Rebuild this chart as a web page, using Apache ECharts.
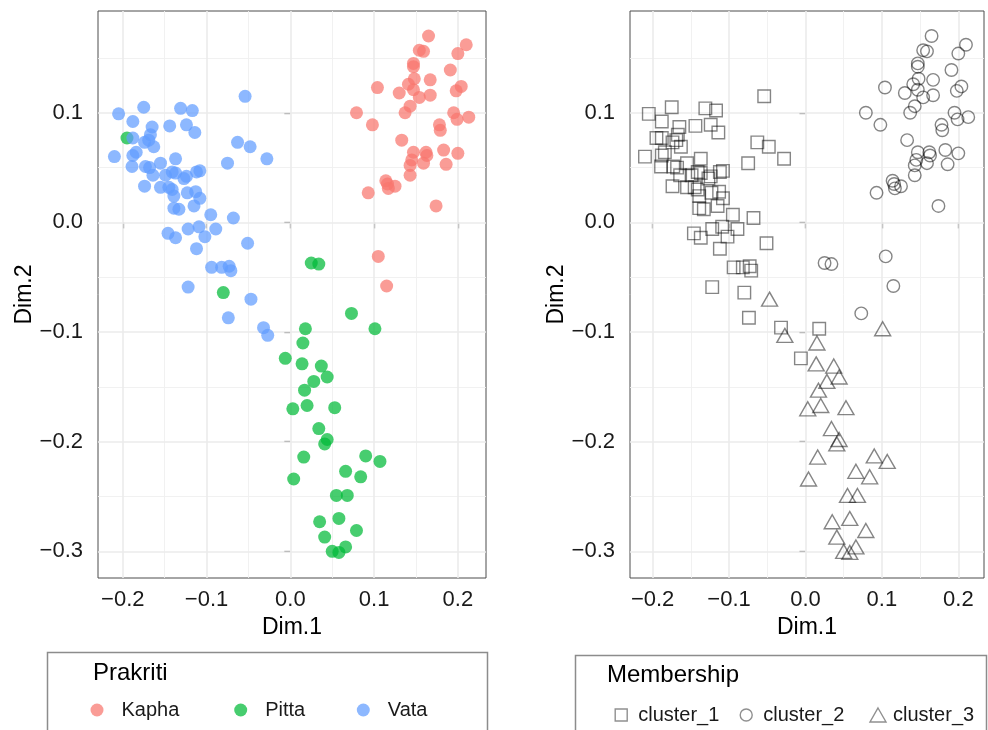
<!DOCTYPE html>
<html style="height: 100%">
<head>
<meta charset="utf-8">
<title>Prakriti vs cluster membership</title>
</head>
<body style="height: 100%; margin: 0; background: #fff">
<div id="container" style="width: 988px; height: 730px"></div>
<script type="text/javascript" src="https://cdn.jsdelivr.net/npm/echarts@6.0.0/dist/echarts.min.js"></script>
<script type="text/javascript">
// each point: [Dim.1, Dim.2, cluster]
var kapha = [
    [0.165, 0.170, 2], [0.154, 0.157, 2], [0.159, 0.156, 2], [0.210, 0.162, 2], [0.200, 0.154, 2],
    [0.147, 0.145, 2], [0.147, 0.142, 2], [0.191, 0.139, 2], [0.104, 0.123, 2], [0.148, 0.131, 2],
    [0.141, 0.126, 2], [0.167, 0.130, 2], [0.130, 0.118, 2], [0.147, 0.121, 2], [0.154, 0.114, 2],
    [0.167, 0.116, 2], [0.204, 0.124, 2], [0.198, 0.120, 2], [0.079, 0.100, 2], [0.143, 0.106, 2],
    [0.137, 0.100, 2], [0.195, 0.100, 2], [0.199, 0.094, 2], [0.213, 0.096, 2], [0.098, 0.089, 2],
    [0.178, 0.089, 2], [0.179, 0.084, 2], [0.133, 0.075, 2], [0.147, 0.064, 2], [0.162, 0.064, 2],
    [0.163, 0.061, 2], [0.183, 0.066, 2], [0.200, 0.063, 2], [0.145, 0.057, 2], [0.159, 0.054, 2],
    [0.186, 0.053, 2], [0.143, 0.052, 2], [0.143, 0.043, 2], [0.114, 0.038, 2], [0.116, 0.035, 2],
    [0.125, 0.033, 2], [0.117, 0.031, 2], [0.093, 0.027, 2], [0.174, 0.015, 2], [0.105, -0.031, 2],
    [0.115, -0.058, 2]
];
var pitta = [
    [-0.195, 0.077, 1], [-0.080, -0.064, 1], [0.025, -0.037, 2], [0.034, -0.038, 2], [0.073, -0.083, 2],
    [0.018, -0.097, 1], [0.101, -0.097, 3], [0.015, -0.110, 3], [-0.006, -0.124, 1], [0.014, -0.129, 3],
    [0.037, -0.131, 3], [0.044, -0.141, 3], [0.028, -0.145, 3], [0.017, -0.153, 3], [0.003, -0.170, 3],
    [0.020, -0.167, 3], [0.053, -0.169, 3], [0.034, -0.188, 3], [0.044, -0.198, 3], [0.041, -0.202, 3],
    [0.016, -0.214, 3], [0.004, -0.234, 3], [0.090, -0.213, 3], [0.107, -0.218, 3], [0.066, -0.227, 3],
    [0.084, -0.232, 3], [0.055, -0.249, 3], [0.068, -0.249, 3], [0.058, -0.270, 3], [0.035, -0.273, 3],
    [0.079, -0.281, 3], [0.041, -0.287, 3], [0.050, -0.300, 3], [0.058, -0.301, 3], [0.066, -0.296, 3]
];
var vata = [
    [-0.054, 0.115, 1], [-0.205, 0.099, 1], [-0.175, 0.105, 1], [-0.131, 0.104, 1], [-0.117, 0.102, 1],
    [-0.188, 0.092, 1], [-0.165, 0.087, 1], [-0.144, 0.088, 1], [-0.124, 0.089, 1], [-0.114, 0.082, 1],
    [-0.188, 0.077, 1], [-0.167, 0.080, 1], [-0.169, 0.075, 1], [-0.174, 0.073, 1], [-0.163, 0.069, 1],
    [-0.184, 0.064, 1], [-0.188, 0.061, 1], [-0.210, 0.060, 1], [-0.063, 0.073, 1], [-0.048, 0.069, 1],
    [-0.028, 0.058, 1], [-0.075, 0.054, 1], [-0.137, 0.058, 1], [-0.189, 0.051, 1], [-0.173, 0.051, 1],
    [-0.168, 0.050, 1], [-0.155, 0.054, 1], [-0.164, 0.043, 1], [-0.149, 0.043, 1], [-0.141, 0.046, 1],
    [-0.137, 0.045, 1], [-0.127, 0.040, 1], [-0.124, 0.042, 1], [-0.112, 0.046, 1], [-0.108, 0.047, 1],
    [-0.174, 0.033, 1], [-0.155, 0.032, 1], [-0.145, 0.032, 1], [-0.141, 0.030, 1], [-0.139, 0.024, 1],
    [-0.123, 0.027, 1], [-0.113, 0.028, 1], [-0.108, 0.022, 1], [-0.115, 0.015, 1], [-0.139, 0.013, 1],
    [-0.133, 0.012, 1], [-0.095, 0.007, 1], [-0.068, 0.004, 1], [-0.146, -0.010, 1], [-0.137, -0.014, 1],
    [-0.122, -0.006, 1], [-0.109, -0.004, 1], [-0.102, -0.013, 1], [-0.089, -0.006, 1], [-0.051, -0.019, 1],
    [-0.112, -0.024, 1], [-0.094, -0.041, 1], [-0.082, -0.041, 1], [-0.073, -0.040, 1], [-0.071, -0.044, 1],
    [-0.122, -0.059, 1], [-0.047, -0.070, 3], [-0.074, -0.087, 1], [-0.032, -0.096, 1], [-0.027, -0.103, 3]
];

var prakritiNames = ['Kapha', 'Pitta', 'Vata'];
var prakritiColors = ['#F8766D', '#00BA38', '#619CFF'];
var clusterNames = ['cluster_1', 'cluster_2', 'cluster_3'];
var clusterSymbols = ['rect', 'circle', 'triangle'];

var xTicks = [-0.2, -0.1, 0.0, 0.1, 0.2];
var xMinor = [-0.15, -0.05, 0.05, 0.15];
var yTicks = [-0.3, -0.2, -0.1, 0.0, 0.1];
var yMinor = [-0.25, -0.15, -0.05, 0.05, 0.15];
var xRange = [-0.2296, 0.2336];
var yRange = [-0.3243, 0.1928];

var font = 'Liberation Sans, Arial, Helvetica, sans-serif';
var groups = [kapha, pitta, vata];
var allPoints = kapha.concat(pitta, vata);

function fmt(v) {
    return v.toFixed(1).replace('-', '\u2212');
}

function xAxisFor(i) {
    return {
        type: 'value', gridIndex: i, min: xRange[0], max: xRange[1],
        name: 'Dim.1', nameLocation: 'middle', nameGap: 38,
        nameTextStyle: { fontSize: 23, color: '#000', fontFamily: font },
        axisLine: { show: false },
        axisTick: { show: true, customValues: xTicks, length: 6, lineStyle: { color: '#333', width: 1.2 } },
        axisLabel: { customValues: xTicks, formatter: fmt, fontSize: 22, color: '#1a1a1a', fontFamily: font, margin: 11 },
        splitLine: { show: false }
    };
}
function yAxisFor(i) {
    return {
        type: 'value', gridIndex: i, min: yRange[0], max: yRange[1],
        name: 'Dim.2', nameLocation: 'middle', nameGap: 58, nameRotate: 90,
        nameTextStyle: { fontSize: 23, color: '#000', fontFamily: font },
        axisLine: { show: false },
        axisTick: { show: true, customValues: yTicks, length: 6, lineStyle: { color: '#333', width: 1.2 } },
        axisLabel: { customValues: yTicks, formatter: fmt, fontSize: 22, color: '#1a1a1a', fontFamily: font, margin: 15 },
        splitLine: { show: false }
    };
}

function gridLines(i) {
    var lines = [];
    xMinor.forEach(function (v) { lines.push({ xAxis: v, lineStyle: { width: 0.9, color: '#efefef' } }); });
    yMinor.forEach(function (v) { lines.push({ yAxis: v, lineStyle: { width: 0.9, color: '#efefef' } }); });
    xTicks.forEach(function (v) { lines.push({ xAxis: v, lineStyle: { width: 1.6, color: '#ebebeb' } }); });
    yTicks.forEach(function (v) { lines.push({ yAxis: v, lineStyle: { width: 1.6, color: '#ebebeb' } }); });
    return {
        type: 'scatter', name: 'grid' + i, xAxisIndex: i, yAxisIndex: i, data: [], silent: true,
        markLine: {
            z: 1, silent: true, symbol: 'none', animation: false,
            label: { show: false }, emphasis: { disabled: true },
            lineStyle: { type: 'solid' },
            data: lines
        }
    };
}

var series = [gridLines(0), gridLines(1)];
prakritiNames.forEach(function (name, k) {
    series.push({
        type: 'scatter', name: name, xAxisIndex: 0, yAxisIndex: 0, z: 3,
        symbol: 'circle', symbolSize: 13,
        itemStyle: { color: prakritiColors[k], opacity: 0.72 },
        data: groups[k].map(function (p) { return [p[0], p[1]]; })
    });
});
clusterNames.forEach(function (name, k) {
    series.push({
        type: 'scatter', name: name, xAxisIndex: 1, yAxisIndex: 1, z: 3,
        symbol: clusterSymbols[k], symbolSize: k === 2 ? [16, 14] : 12.5,
        itemStyle: { color: 'rgba(0,0,0,0)', borderColor: 'rgba(0,0,0,0.6)', borderWidth: 1.4 },
        data: allPoints.filter(function (p) { return p[2] === k + 1; }).map(function (p) { return [p[0], p[1]]; })
    });
});

var legendLeftX = [90.5, 234.2, 356.8];
var legendRightX = [614.5, 739.5, 869.3];
var legends = [];
prakritiNames.forEach(function (name, k) {
    legends.push({
        data: [name], left: legendLeftX[k], top: 700, padding: 0,
        itemWidth: 13, itemHeight: 13, selectedMode: false,
        textStyle: { fontSize: 20, color: '#1a1a1a', fontFamily: font, padding: [0, 0, 0, 13] }
    });
});
clusterNames.forEach(function (name, k) {
    legends.push({
        data: [name], left: legendRightX[k], top: 705, padding: 0,
        itemWidth: k === 2 ? 16 : 12, itemHeight: k === 2 ? 14 : 12, selectedMode: false,
        itemStyle: { color: 'rgba(0,0,0,0)', borderColor: 'rgba(0,0,0,0.55)', borderWidth: 1.4 },
        textStyle: { fontSize: 20, color: '#1a1a1a', fontFamily: font, padding: [0, 0, 0, k === 2 ? 2 : 6] }
    });
});

var option = {
    animation: false,
    backgroundColor: '#fff',
    title: [
        { text: 'Prakriti', left: 93, top: 661, padding: 0, textStyle: { fontSize: 24, fontWeight: 'normal', color: '#000', fontFamily: font } },
        { text: 'Membership', left: 607, top: 663, padding: 0, textStyle: { fontSize: 24, fontWeight: 'normal', color: '#000', fontFamily: font } }
    ],
    grid: [
        { left: 98, top: 11, width: 388, height: 567, show: true, borderColor: '#4d4d4d', borderWidth: 1, backgroundColor: '#fff' },
        { left: 630, top: 11, width: 354, height: 567, show: true, borderColor: '#4d4d4d', borderWidth: 1, backgroundColor: '#fff' }
    ],
    xAxis: [xAxisFor(0), xAxisFor(1)],
    yAxis: [yAxisFor(0), yAxisFor(1)],
    legend: legends,
    graphic: [
        { type: 'rect', left: 45, top: 650, shape: { width: 440, height: 100 }, style: { fill: 'none', stroke: '#8c8c8c', lineWidth: 1.5 } },
        { type: 'rect', left: 573, top: 653, shape: { width: 411, height: 100 }, style: { fill: 'none', stroke: '#8c8c8c', lineWidth: 1.5 } }
    ],
    series: series
};

var myChart = echarts.init(document.getElementById('container'));
myChart.setOption(option);
</script>
</body>
</html>
